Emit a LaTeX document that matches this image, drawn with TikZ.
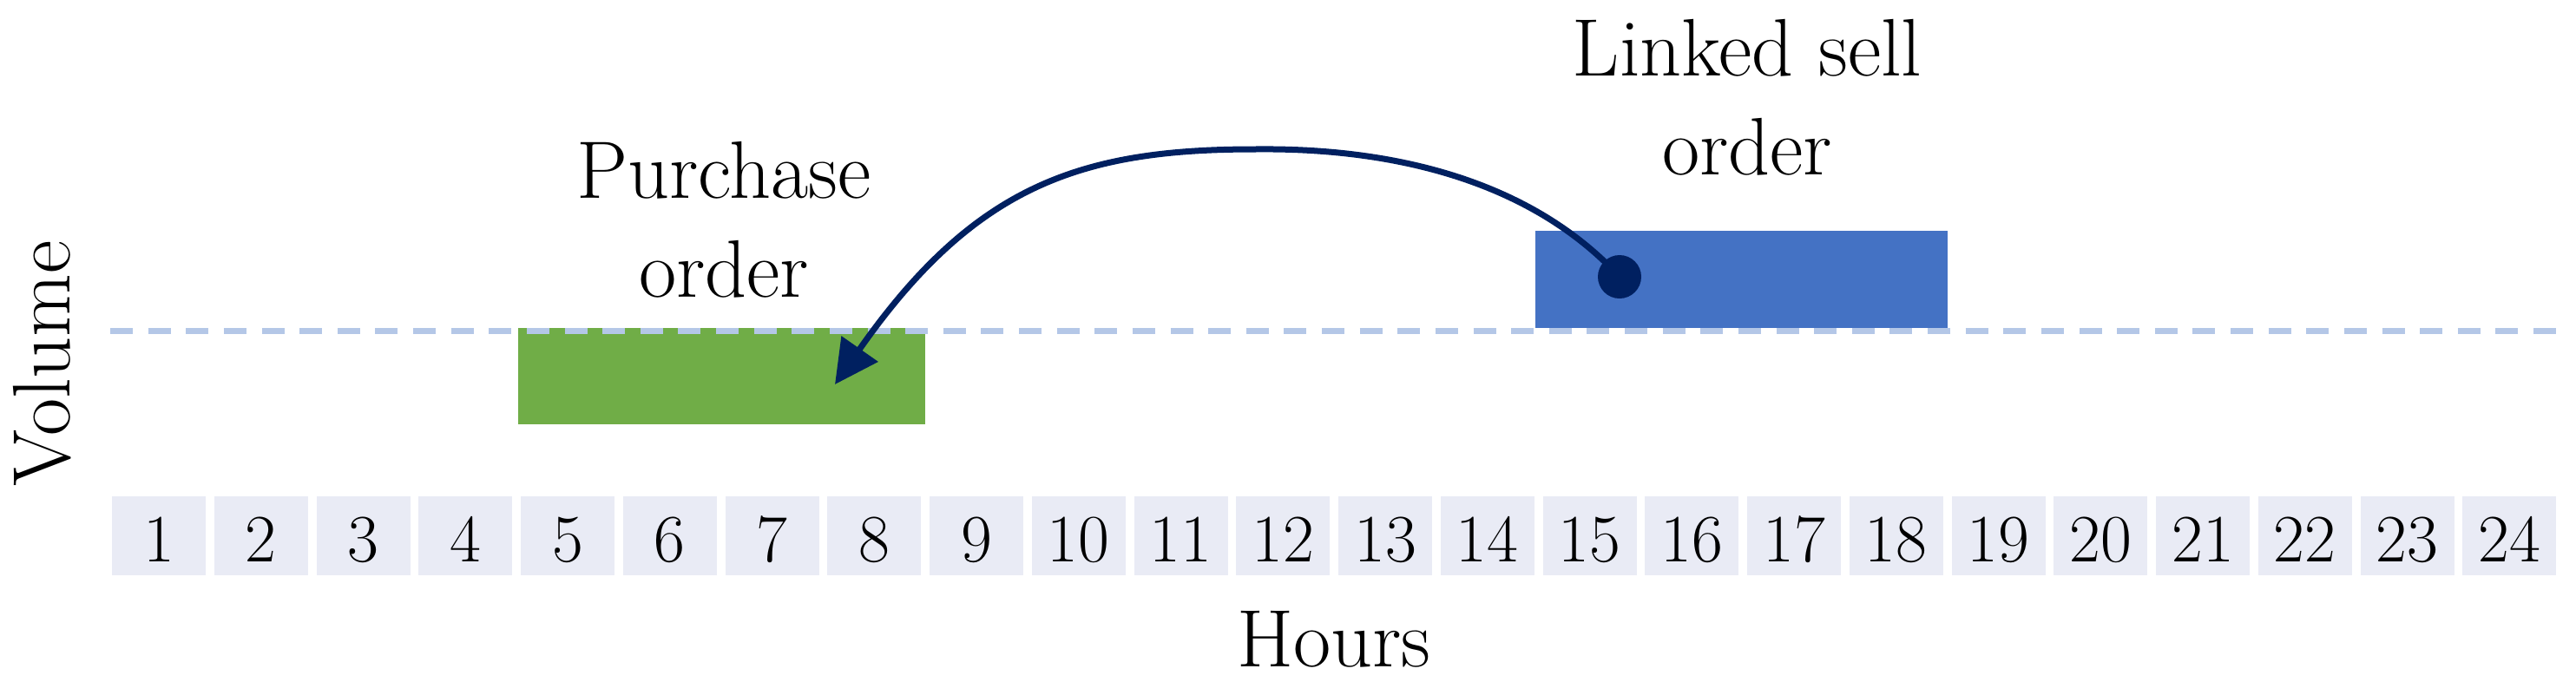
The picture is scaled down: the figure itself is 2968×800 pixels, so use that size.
\documentclass[tikz,border=0pt]{standalone}
\usetikzlibrary{arrows.meta}
\definecolor{boxfill}{HTML}{E9EBF5}
\definecolor{buygreen}{HTML}{70AD47}
\definecolor{sellblue}{HTML}{4472C4}
\definecolor{navy}{HTML}{002060}
\definecolor{lineblue}{HTML}{B4C7E7}
\begin{document}
\begin{tikzpicture}[x=0.5pt,y=-0.5pt,
 hourbox/.style={fill=boxfill, minimum width=54pt, minimum height=45.5pt, inner sep=0pt,
   text height=30pt, text depth=0pt, font=\fontsize{39}{42}\selectfont},
 orderbar/.style={inner sep=0pt, anchor=north west},
 lbl/.style={align=center, inner sep=0pt, font=\fontsize{47}{57}\selectfont},
 link/.style={navy, line width=3.5pt, -{Triangle[length=25pt,width=25pt]}},
 level/.style={lineblue, line width=3.5pt, dash pattern=on 13pt off 8.8125pt}
]
\useasboundingbox (0,0) rectangle (2968,800);

\foreach \i in {1,...,24} {
  \node[hourbox] (h\i) at ({183+(\i-1)*117.75},617) {\i};
}

\node[orderbar, fill=buygreen, minimum width=234.5pt, minimum height=55.5pt] (buy) at (597,378) {};
\node[orderbar, fill=sellblue, minimum width=237.5pt, minimum height=56pt] (sell) at (1769,266) {};

\coordinate (lvlL) at (127,381.5);
\coordinate (lvlR) at (2945,381.5);
\draw[level] (lvlL) -- (lvlR);

\node[lbl, anchor=north] (buytxt) at (834,163) {Purchase\\order};
\node[lbl, anchor=north] (selltxt) at (2013,22) {Linked sell\\order};
\node[lbl, anchor=base] (hours) at (1537,768) {Hours};
\node[lbl, anchor=base, rotate=90] (volume) at (80,419) {Volume};

\node[circle, fill=navy, inner sep=0pt, minimum size=25pt] (dot) at (1866,319) {};
\coordinate (tip) at (962,443);
\draw[link] (dot.center) .. controls (1770,215) and (1620,170) .. (1446,172)
  .. controls (1246,172) and (1123,213) .. (tip);
\end{tikzpicture}
\end{document}
